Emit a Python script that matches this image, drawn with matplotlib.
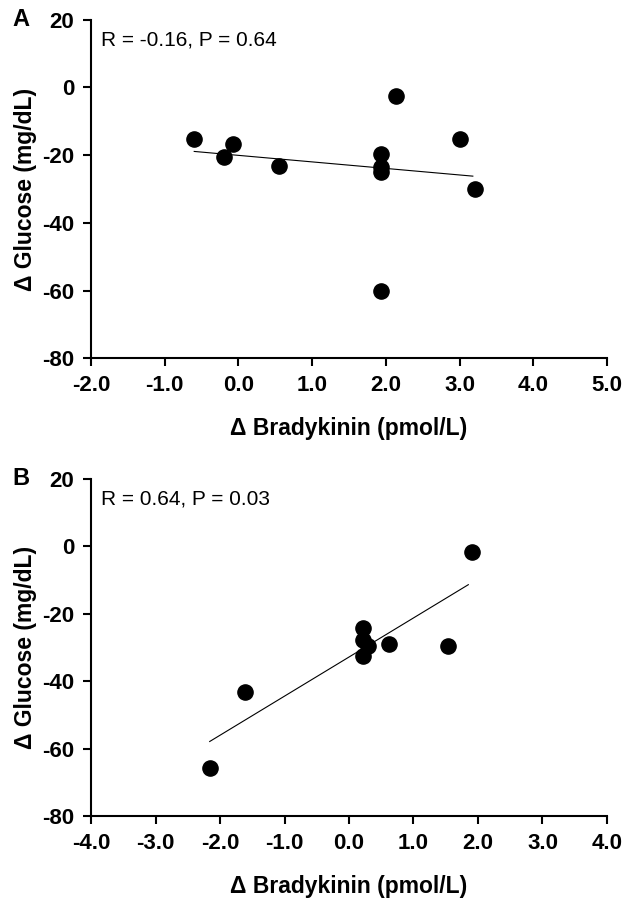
import matplotlib
matplotlib.use("Agg")
import matplotlib.pyplot as plt
from matplotlib.ticker import FormatStrFormatter

plt.rcParams["font.family"] = ["Liberation Sans", "DejaVu Sans"]
plt.rcParams["axes.unicode_minus"] = False

# Panel A data
a_x = [-0.60, -0.19, -0.07, 0.55, 1.93, 1.93, 1.93, 1.93, 2.14, 3.00, 3.21]
a_y = [-15.1, -20.6, -16.7, -23.1, -19.6, -23.5, -25.0, -60.2, -2.4, -15.1, -30.0]
a_fit_x = [-0.60, 3.18]
a_fit_y = [-18.9, -26.2]

# Panel B data
b_x = [1.90, 0.22, 0.22, 0.30, 0.22, 0.62, 1.53, -1.61, -2.16]
b_y = [-1.7, -24.1, -27.8, -29.5, -32.4, -29.0, -29.5, -43.1, -65.9]
b_fit_x = [-2.16, 1.85]
b_fit_y = [-57.9, -11.4]

fig = plt.figure(figsize=(6.29, 9.0), dpi=100)
axA = fig.add_axes([0.1447, 0.602, 0.8203, 0.376])
axB = fig.add_axes([0.1447, 0.0933, 0.8203, 0.3747])


def style(ax, xlim, xticks):
    ax.set_xlim(*xlim)
    ax.set_ylim(-80, 20)
    ax.set_xticks(xticks)
    ax.set_yticks([-80, -60, -40, -20, 0, 20])
    ax.xaxis.set_major_formatter(FormatStrFormatter("%.1f"))
    for s in ["top", "right"]:
        ax.spines[s].set_visible(False)
    for s in ["left", "bottom"]:
        ax.spines[s].set_linewidth(1.5)
    ax.tick_params(direction="out", length=6, width=1.5, labelsize=16, pad=6)
    for lab in ax.get_xticklabels() + ax.get_yticklabels():
        lab.set_fontweight("bold")
    ax.set_xlabel("\u0394 Bradykinin (pmol/L)", fontsize=16.5, fontweight="bold", labelpad=15)
    ax.set_ylabel("\u0394 Glucose (mg/dL)", fontsize=16.5, fontweight="bold", labelpad=4)


style(axA, (-2.0, 5.0), [-2, -1, 0, 1, 2, 3, 4, 5])
axA.scatter(a_x, a_y, s=120, color="black", zorder=3, clip_on=False)
axA.plot(a_fit_x, a_fit_y, color="black", lw=0.8)
axA.text(0.02, 0.94, "R = -0.16, P = 0.64", transform=axA.transAxes,
         fontsize=15, va="center", ha="left")

style(axB, (-4.0, 4.0), [-4, -3, -2, -1, 0, 1, 2, 3, 4])
axB.scatter(b_x, b_y, s=120, color="black", zorder=3, clip_on=False)
axB.plot(b_fit_x, b_fit_y, color="black", lw=0.8)
axB.text(0.02, 0.94, "R = 0.64, P = 0.03", transform=axB.transAxes,
         fontsize=15, va="center", ha="left")

fig.text(0.019, 0.978, "A", fontsize=17, fontweight="bold", va="center")
fig.text(0.019, 0.468, "B", fontsize=17, fontweight="bold", va="center")

fig.savefig("out.png", dpi=100)
